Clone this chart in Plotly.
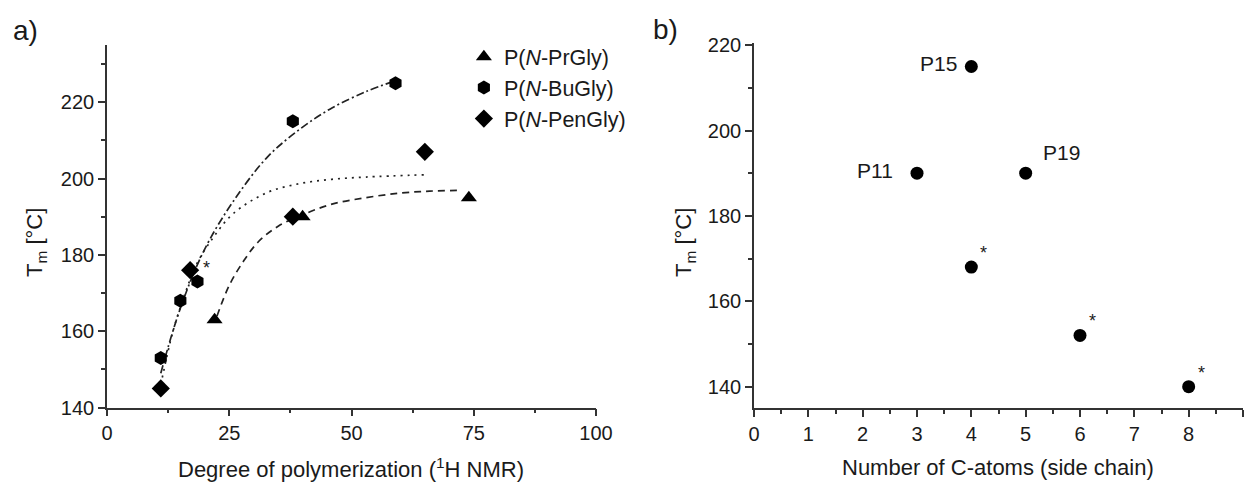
import plotly.graph_objects as go

# ---- Panel a data ----
pr_dp = [22, 40, 74]
pr_tm = [163, 190, 195]
bu_dp = [11, 15, 18.5, 38, 59]
bu_tm = [153, 168, 173, 215, 225]
pen_dp = [11, 17, 38, 65]
pen_tm = [145, 176, 190, 207]

# fit curves
pr_fit_x = [22.5, 25, 28, 31, 35, 40, 46, 53, 60, 66, 72]
pr_fit_y = [164, 172, 178.5, 183.5, 187.5, 190.5, 193.3, 195, 196.2, 196.7, 196.9]
bu_fit_x = [11, 13, 15, 18, 21, 25.8, 32.7, 39.5, 46, 53, 58]
bu_fit_y = [149, 158, 166, 176, 184, 194, 205.5, 213, 218.5, 222.8, 225.2]
pen_fit_x = [11, 13.5, 16, 18.5, 21.7, 25.8, 32.7, 39.5, 46, 53, 65]
pen_fit_y = [146, 160, 170, 178, 184.5, 190.8, 196.3, 198.7, 199.8, 200.4, 201]

# ---- Panel b data ----
c_atoms = [3, 4, 5, 4, 6, 8]
tm_b = [190, 215, 190, 168, 152, 140]
labels_b = ["P11", "P15", "P19", "", "", ""]
star_b = ["", "", "", "*", "*", "*"]

FONT = "Arial, Liberation Sans, sans-serif"
BLACK = "#000000"
AX = "#333333"
TXT = "#1a1a1a"

fig = go.Figure()

# fits
fig.add_trace(go.Scatter(x=pr_fit_x, y=pr_fit_y, mode="lines",
                         line=dict(color="#222", width=1.7, dash="7px,5px", shape="spline"),
                         showlegend=False, xaxis="x", yaxis="y"))
fig.add_trace(go.Scatter(x=bu_fit_x, y=bu_fit_y, mode="lines",
                         line=dict(color="#222", width=1.7, dash="8px,3px,2px,3px", shape="spline"),
                         showlegend=False, xaxis="x", yaxis="y"))
fig.add_trace(go.Scatter(x=pen_fit_x, y=pen_fit_y, mode="lines",
                         line=dict(color="#222", width=1.7, dash="2px,5px", shape="spline"),
                         showlegend=False, xaxis="x", yaxis="y"))

# markers
fig.add_trace(go.Scatter(x=pr_dp, y=pr_tm, mode="markers", name="P(<i>N</i>-PrGly)",
                         marker=dict(symbol="triangle-up", size=14, color=BLACK), xaxis="x", yaxis="y"))
fig.add_trace(go.Scatter(x=bu_dp, y=bu_tm, mode="markers", name="P(<i>N</i>-BuGly)",
                         marker=dict(symbol="hexagon", size=14, color=BLACK), xaxis="x", yaxis="y"))
fig.add_trace(go.Scatter(x=pen_dp, y=pen_tm, mode="markers", name="P(<i>N</i>-PenGly)",
                         marker=dict(symbol="diamond", size=14, color=BLACK), xaxis="x", yaxis="y"))

# panel b
fig.add_trace(go.Scatter(x=c_atoms, y=tm_b, mode="markers", marker=dict(symbol="circle", size=13, color=BLACK),
                         showlegend=False, xaxis="x2", yaxis="y2"))

annotations = []
for xv, yv, lab in zip(c_atoms, tm_b, labels_b):
    if not lab:
        continue
    if lab == "P19":
        annotations.append(dict(x=xv, y=yv, xref="x2", yref="y2", text=lab, showarrow=False,
                                xanchor="left", yanchor="middle", xshift=15, yshift=21,
                                font=dict(family=FONT, size=21, color=TXT)))
    elif lab == "P11":
        annotations.append(dict(x=xv, y=yv, xref="x2", yref="y2", text=lab, showarrow=False,
                                xanchor="right", yanchor="middle", xshift=-22, yshift=3,
                                font=dict(family=FONT, size=21, color=TXT)))
    else:
        annotations.append(dict(x=xv, y=yv, xref="x2", yref="y2", text=lab, showarrow=False,
                                xanchor="right", yanchor="middle", xshift=-12, yshift=3,
                                font=dict(family=FONT, size=21, color=TXT)))
for xv, yv, s in zip(c_atoms, tm_b, star_b):
    if s:
        annotations.append(dict(x=xv, y=yv, xref="x2", yref="y2", text=s, showarrow=False,
                                xanchor="left", yanchor="bottom", xshift=7, yshift=2,
                                font=dict(family=FONT, size=18, color=TXT)))
# asterisk in panel a (next to P(N-BuGly) DP 18.5)
annotations.append(dict(x=bu_dp[2], y=bu_tm[2], xref="x", yref="y", text="*", showarrow=False,
                        xanchor="left", yanchor="bottom", xshift=4, yshift=2,
                        font=dict(family=FONT, size=18, color=TXT)))
# panel letters
annotations.append(dict(x=25/1247, y=1 - 31/482, xref="paper", yref="paper", text="a)", showarrow=False,
                        xanchor="center", yanchor="middle", font=dict(family=FONT, size=28, color=TXT)))
annotations.append(dict(x=665/1247, y=1 - 29/482, xref="paper", yref="paper", text="b)", showarrow=False,
                        xanchor="center", yanchor="middle", font=dict(family=FONT, size=28, color=TXT)))
# axis titles
title_font = dict(family=FONT, size=22, color=TXT)
annotations.append(dict(x=351/1247, y=1 - 468/482, xref="paper", yref="paper",
                        text="Degree of polymerization (<sup>1</sup>H NMR)", showarrow=False,
                        xanchor="center", yanchor="middle", font=title_font))
annotations.append(dict(x=998/1247, y=1 - 467/482, xref="paper", yref="paper",
                        text="Number of C-atoms (side chain)", showarrow=False,
                        xanchor="center", yanchor="middle", font=title_font))
annotations.append(dict(x=36/1247, y=1 - 243/482, xref="paper", yref="paper",
                        text="T<sub>m</sub> [°C]", showarrow=False, textangle=-90,
                        xanchor="center", yanchor="middle", font=title_font))
annotations.append(dict(x=685/1247, y=1 - 243/482, xref="paper", yref="paper",
                        text="T<sub>m</sub> [°C]", showarrow=False, textangle=-90,
                        xanchor="center", yanchor="middle", font=title_font))

axis_common = dict(showline=True, linecolor=AX, linewidth=1.6, ticks="outside", ticklen=7, tickwidth=1.6,
                   tickcolor=AX, showgrid=False, zeroline=False, mirror=False, automargin=False,
                   tickfont=dict(family=FONT, size=20, color=TXT))
minor_common = dict(ticks="outside", ticklen=4, tickwidth=1.6, tickcolor=AX)

fig.update_layout(
    width=1247, height=482,
    margin=dict(l=0, r=0, t=0, b=0, autoexpand=False),
    paper_bgcolor="white", plot_bgcolor="white",
    showlegend=True,
    legend=dict(x=0.372, y=0.925, xanchor="left", yanchor="top", bgcolor="rgba(0,0,0,0)",
                font=dict(family=FONT, size=21.5, color=TXT), tracegroupgap=0, itemsizing="trace"),
    xaxis=dict(domain=[107/1247, 596/1247], range=[0, 100], tickvals=[0, 25, 50, 75, 100],
               minor=dict(dtick=12.5, tick0=0, **minor_common), anchor="y", **axis_common),
    yaxis=dict(domain=[1 - 407.5/482, 1 - 45/482], range=[140, 235], tickvals=[140, 160, 180, 200, 220],
               minor=dict(dtick=10, tick0=140, **minor_common), anchor="x", **axis_common),
    xaxis2=dict(domain=[754/1247, 1243/1247], range=[0, 9], tickvals=list(range(0, 10)),
                minor=dict(dtick=0.5, tick0=0, **minor_common), anchor="y2", **axis_common),
    yaxis2=dict(domain=[1 - 408/482, 1 - 43/482], range=[135, 220.5], tickvals=[140, 160, 180, 200, 220],
                minor=dict(dtick=10, tick0=140, **minor_common), anchor="x2", **axis_common),
    annotations=annotations,
)

fig.write_html("out.html", config={"displayModeBar": False},
               post_script="document.body.style.margin='0';document.body.style.padding='0';document.body.style.overflow='hidden';")
